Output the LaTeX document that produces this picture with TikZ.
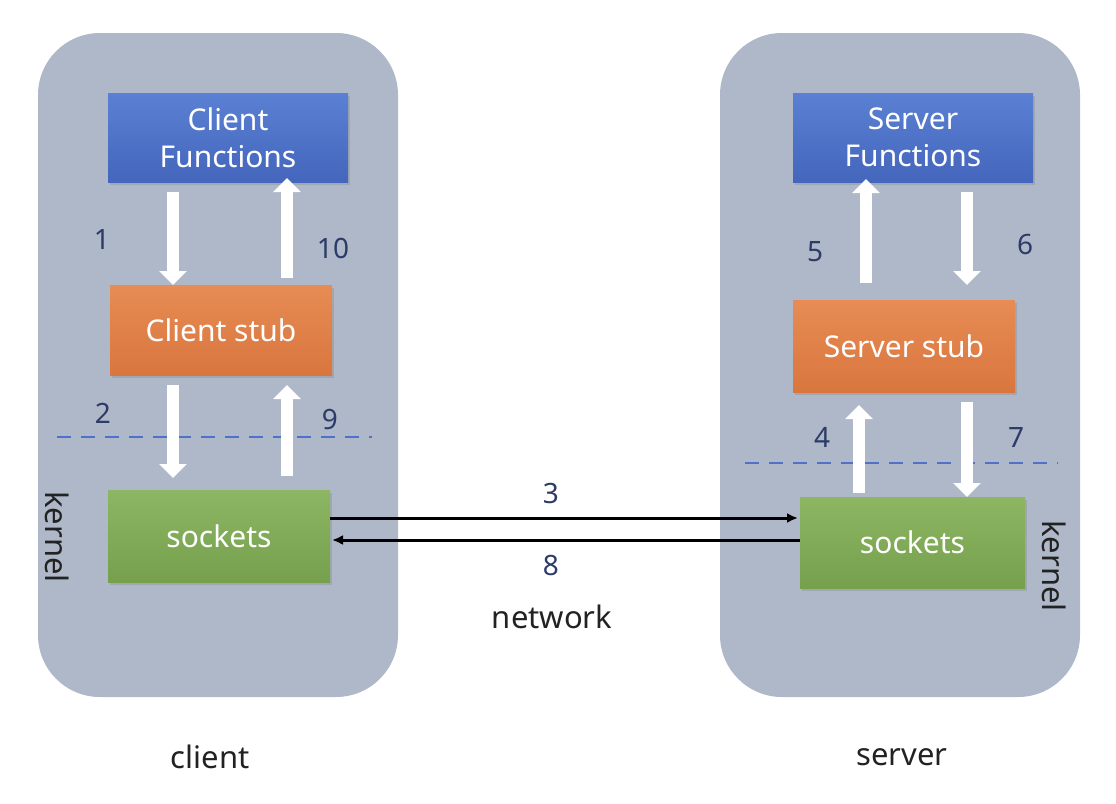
\documentclass[tikz,border=0pt]{standalone}
\usepackage{fontspec}
\setmainfont{Noto Sans}
\usetikzlibrary{arrows.meta,shadows}
\definecolor{panel}{HTML}{AEB8C8}
\definecolor{bluetop}{HTML}{5A80D3}
\definecolor{bluebot}{HTML}{4466BC}
\definecolor{ortop}{HTML}{E68C54}
\definecolor{orbot}{HTML}{D9763E}
\definecolor{grtop}{HTML}{8DB663}
\definecolor{grbot}{HTML}{75A04C}
\definecolor{numcol}{HTML}{2C3B68}
\definecolor{dashcol}{HTML}{4E72C8}
\definecolor{txtcol}{HTML}{222222}
\tikzset{
  panelbox/.style={fill=panel, draw=none, rounded corners=62pt},
  boxbase/.style={inner sep=0pt, outer sep=0pt, text=white, align=center,
    font=\fontsize{30}{37}\selectfont,
    drop shadow={shadow xshift=1.5pt, shadow yshift=-2.5pt, opacity=0.3}},
  bluebox/.style={boxbase, top color=bluetop, bottom color=bluebot},
  orbox/.style={boxbase, top color=ortop, bottom color=orbot},
  grbox/.style={boxbase, top color=grtop, bottom color=grbot},
  warrow/.style={draw=white, line width=12pt, -{Triangle[width=27pt,length=14pt]}},
  netarrow/.style={draw=black, line width=3pt, -{Latex[length=11pt,width=10pt]}},
  kline/.style={draw=dashcol, line width=2.8pt, dash pattern=on 14pt off 10pt},
  numlab/.style={text=numcol, font=\fontsize{28}{33}\selectfont, inner sep=0pt},
  plainlab/.style={text=txtcol, font=\fontsize{31}{36}\selectfont, inner sep=0pt},
}
\begin{document}
\begin{tikzpicture}[x=1pt,y=-1pt]
\useasboundingbox[fill=white] (0,0) rectangle (1116,803);
% panels
\path[panelbox] (38,33) rectangle (398,697);
\path[panelbox] (720,33) rectangle (1080,697);
% dashed kernel boundaries
\draw[kline] (57,437) -- (372,437);
\draw[kline] (745,463) -- (1058,463);
% boxes
\node[bluebox, minimum width=240pt, minimum height=89pt] (cf) at (228,137.5) {Client\\Functions};
\node[orbox, minimum width=222pt, minimum height=90pt] (cs) at (221,330) {Client stub};
\node[grbox, minimum width=222pt, minimum height=92pt] (ck) at (219,536) {sockets};
\node[bluebox, minimum width=240pt, minimum height=89pt] (sf) at (913,137.5) {Server\\Functions};
\node[orbox, minimum width=222pt, minimum height=92pt] (ss) at (904,346) {Server stub};
\node[grbox, minimum width=225pt, minimum height=91pt] (sk) at (912.5,542.5) {sockets};
% x positions of the vertical arrows
\coordinate (xa) at (173,0);
\coordinate (xb) at (287,0);
\coordinate (xc) at (866,0);
\coordinate (xd) at (967,0);
\coordinate (xe) at (859,0);
% y positions of network lines
\coordinate (y3) at (0,518);
\coordinate (y8) at (0,540);
% client arrows
\draw[warrow, shorten <=10pt] (cf.south -| xa) -- (cs.north -| xa);
\draw[warrow, shorten <=7pt, shorten >=-4pt] (cs.north -| xb) -- (cf.south -| xb);
\draw[warrow, shorten <=10pt, shorten >=12pt] (cs.south -| xa) -- (ck.north -| xa);
\draw[warrow, shorten <=14pt, shorten >=10pt] (ck.north -| xb) -- (cs.south -| xb);
% server arrows
\draw[warrow, shorten <=17pt, shorten >=-3pt] (ss.north -| xc) -- (sf.south -| xc);
\draw[warrow, shorten <=10pt, shorten >=15pt] (sf.south -| xd) -- (ss.north -| xd);
\draw[warrow, shorten <=4pt, shorten >=13pt] (sk.north -| xe) -- (ss.south -| xe);
\draw[warrow, shorten <=10pt] (ss.south -| xd) -- (sk.north -| xd);
% network arrows
\draw[netarrow, shorten >=2pt] (ck.east |- y3) -- (sk.west |- y3);
\draw[netarrow, shorten >=2pt] (sk.west |- y8) -- (ck.east |- y8);
% numbers
\node[numlab] (n1) at (102,240) {1};
\node[numlab] (n10) at (333,248) {10};
\node[numlab] (n2) at (103,413) {2};
\node[numlab] (n9) at (330,419) {9};
\node[numlab] (n5) at (815,252) {5};
\node[numlab] (n6) at (1025,245) {6};
\node[numlab] (n4) at (822,437) {4};
\node[numlab] (n7) at (1016,437) {7};
\node[numlab] (n3) at (551,493) {3};
\node[numlab] (n8) at (551,565) {8};
% other labels
\node[plainlab] (net) at (552,617) {network};
\node[plainlab] (cl) at (210,757) {client};
\node[plainlab] (sv) at (902,757) {server};
\node[plainlab, rotate=-90] (kl) at (57,537) {kernel};
\node[plainlab, rotate=-90] (kr) at (1054,566) {kernel};
\end{tikzpicture}
\end{document}
